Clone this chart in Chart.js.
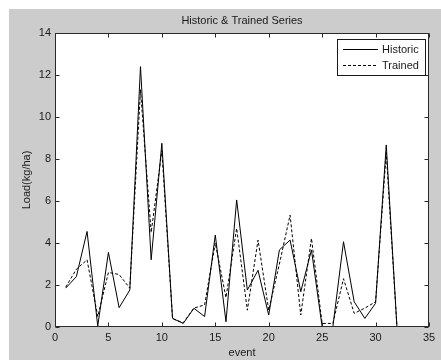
<!DOCTYPE html>
<html>
<head>
<meta charset="utf-8">
<script src="https://cdn.jsdelivr.net/npm/chart.js@4"></script>
<style>
  html, body { margin: 0; padding: 0; background: #ffffff; }
  canvas { display: block; }
</style>
</head>
<body>
<canvas id="c" width="441" height="360"></canvas>
<script>
// ---- data ----
const events = [1,2,3,4,5,6,7,8,9,10,11,12,13,14,15,16,17,18,19,20,21,22,23,24,25,26,27,28,29,30,31,32];
const historic = [1.85,2.4,4.55,0.05,3.55,0.92,1.76,12.4,3.2,8.75,0.41,0.17,0.89,0.5,4.38,0.25,6.05,1.76,2.7,0.57,3.67,4.14,1.68,3.67,0,0,4.06,1.2,0.41,1.13,8.67,0];
const trained = [1.9,2.75,3.2,0.5,2.6,2.5,1.85,11.3,4.5,8.4,0.4,0.2,0.9,1.05,4.0,1.4,4.7,0.8,4.14,0.8,3.0,5.33,0.57,4.22,0.17,0.17,2.3,0.65,0.9,1.2,8.3,0];
const xTicks = [0,5,10,15,20,25,30,35];
const yTicks = [0,2,4,6,8,10,12,14];
const seriesNames = ['Historic', 'Trained'];
const chartTitle = 'Historic & Trained Series';
const xTitle = 'event';
const yTitle = 'Load(kg/ha)';

const FONT = 'Liberation Sans, Arial, Helvetica, sans-serif';

const bgPlugin = {
  id: 'matlabBg',
  beforeDraw(chart) {
    const ctx = chart.ctx;
    const a = chart.chartArea;
    ctx.save();
    ctx.fillStyle = '#ffffff';
    ctx.fillRect(0, 0, chart.width, chart.height);
    ctx.fillStyle = '#cccccc';
    ctx.fillRect(9, 9, chart.width - 9, chart.height - 9);
    ctx.fillStyle = '#ffffff';
    ctx.fillRect(a.left, a.top, a.right - a.left, a.bottom - a.top);
    // title, centred over the axes box (MATLAB style)
    ctx.font = '11px ' + FONT;
    ctx.fillStyle = '#1a1a1a';
    ctx.textAlign = 'center';
    ctx.textBaseline = 'middle';
    ctx.fillText(chartTitle, (a.left + a.right) / 2, 21);
    ctx.restore();
  },
  afterDatasetsDraw(chart) {
    const ctx = chart.ctx;
    const a = chart.chartArea;
    const xs = chart.scales.x, ys = chart.scales.y;
    ctx.save();
    ctx.strokeStyle = '#2a2a2a';
    ctx.lineWidth = 1;
    const L = Math.round(a.left) + 0.5, R = Math.round(a.right) - 0.5;
    const T = Math.round(a.top) + 0.5, B = Math.round(a.bottom) - 0.5;
    ctx.strokeRect(L, T, R - L, B - T);
    const tl = 4;
    ctx.beginPath();
    xs.ticks.forEach(t => {
      const px = Math.round(xs.getPixelForValue(t.value)) + 0.5;
      ctx.moveTo(px, B); ctx.lineTo(px, B - tl);
      ctx.moveTo(px, T); ctx.lineTo(px, T + tl);
    });
    ys.ticks.forEach(t => {
      const py = Math.round(ys.getPixelForValue(t.value)) + 0.5;
      ctx.moveTo(L, py); ctx.lineTo(L + tl, py);
      ctx.moveTo(R, py); ctx.lineTo(R - tl, py);
    });
    ctx.stroke();

    // legend box (MATLAB style, inside top-right)
    const lx = 337.5, ly = 39.5, lw = 88, lh = 36;
    ctx.fillStyle = '#ffffff';
    ctx.fillRect(lx, ly, lw, lh);
    ctx.strokeStyle = '#1a1a1a';
    ctx.strokeRect(lx, ly, lw, lh);
    ctx.font = '11px ' + FONT;
    ctx.textBaseline = 'middle';
    ctx.fillStyle = '#1a1a1a';
    chart.data.datasets.forEach((ds, i) => {
      const yy = 49.5 + i * 16;
      ctx.beginPath();
      ctx.setLineDash(ds.borderDash || []);
      ctx.strokeStyle = '#000000';
      ctx.moveTo(343, yy); ctx.lineTo(378, yy);
      ctx.stroke();
      ctx.setLineDash([]);
      ctx.fillText(ds.label, 382, yy + 0.5);
    });
    ctx.restore();
  }
};

new Chart(document.getElementById('c'), {
  type: 'line',
  data: {
    datasets: [
      {
        label: seriesNames[0],
        data: events.map((e, i) => ({ x: e, y: historic[i] })),
        borderColor: '#000000',
        borderWidth: 1,
        pointRadius: 0,
        tension: 0,
        fill: false
      },
      {
        label: seriesNames[1],
        data: events.map((e, i) => ({ x: e, y: trained[i] })),
        borderColor: '#000000',
        borderWidth: 1,
        borderDash: [3, 2],
        pointRadius: 0,
        tension: 0,
        fill: false
      }
    ]
  },
  options: {
    responsive: false,
    animation: false,
    devicePixelRatio: 1,
    layout: { padding: { left: 9, top: 33, right: 12, bottom: 0 } },
    plugins: {
      legend: { display: false },
      tooltip: { enabled: false },
      title: { display: false }
    },
    scales: {
      x: {
        type: 'linear',
        min: 0, max: 35,
        afterBuildTicks(scale) { scale.ticks = xTicks.map(v => ({ value: v })); },
        afterFit(scale) { scale.height = 33; },
        grid: { display: false, drawTicks: false },
        border: { display: false },
        ticks: {
          color: '#1a1a1a',
          font: { family: FONT, size: 11 },
          padding: 4,
          maxRotation: 0,
          autoSkip: false
        },
        title: {
          display: true,
          text: xTitle,
          color: '#1a1a1a',
          font: { family: FONT, size: 11 },
          padding: { top: 0, bottom: 0 }
        }
      },
      y: {
        type: 'linear',
        min: 0, max: 14,
        afterBuildTicks(scale) { scale.ticks = yTicks.map(v => ({ value: v })); },
        afterFit(scale) { scale.width = 46; },
        grid: { display: false, drawTicks: false },
        border: { display: false },
        ticks: {
          color: '#1a1a1a',
          font: { family: FONT, size: 11 },
          padding: 4,
          autoSkip: false
        },
        title: {
          display: true,
          text: yTitle,
          color: '#1a1a1a',
          font: { family: FONT, size: 11 },
          padding: { top: 11, bottom: 0 }
        }
      }
    }
  },
  plugins: [bgPlugin]
});
</script>
</body>
</html>
